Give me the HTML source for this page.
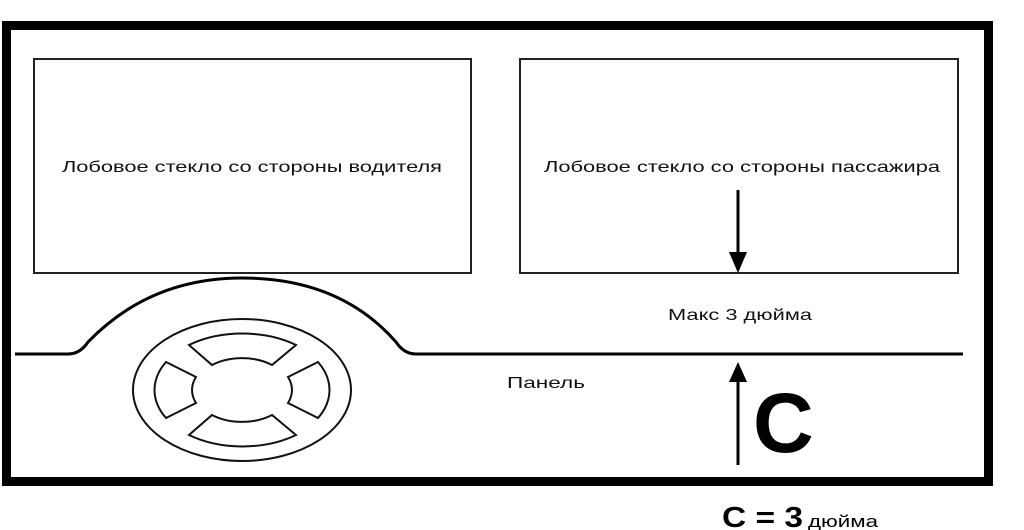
<!DOCTYPE html>
<html><head><meta charset="utf-8"><style>html,body{margin:0;padding:0;background:#fff}svg{display:block}</style></head>
<body>
<svg width="1024" height="530" viewBox="0 0 1024 530" xmlns="http://www.w3.org/2000/svg" font-family="Liberation Sans, sans-serif">
<rect x="6.5" y="25.5" width="982" height="456" fill="none" stroke="#000" stroke-width="9"/>
<rect x="34" y="59" width="437" height="214" fill="none" stroke="#222" stroke-width="2"/>
<rect x="520" y="59" width="438" height="214" fill="none" stroke="#222" stroke-width="2"/>
<text x="252" y="172" font-size="16" text-anchor="middle" textLength="380" lengthAdjust="spacingAndGlyphs" fill="#111">Лобовое стекло со стороны водителя</text>
<text x="742" y="172" font-size="16" text-anchor="middle" textLength="396" lengthAdjust="spacingAndGlyphs" fill="#111">Лобовое стекло со стороны пассажира</text>
<path d="M15,354 L68,354 Q80,354 88,342 Q150,278 242,278 Q340,278 396,342 Q404,354 416,354 L963,354" fill="none" stroke="#000" stroke-width="3"/>
<ellipse cx="242" cy="390" rx="109" ry="71" fill="none" stroke="#111" stroke-width="2"/>
<g fill="none" stroke="#111" stroke-width="2">
<path d="M189,345 A89,57 0 0,1 296,345 L272,365 A49,33 0 0,0 212,365 Z"/>
<path d="M189,435 A89,57 0 0,0 296,435 L272,415 A49,33 0 0,1 212,415 Z"/>
<path d="M166,362 A89,57 0 0,0 166,418 L196,403 A49,33 0 0,1 196,377 Z"/>
<path d="M318,362 A89,57 0 0,1 318,418 L288,403 A49,33 0 0,0 288,377 Z"/>
</g>
<line x1="738" y1="190" x2="738" y2="255" stroke="#000" stroke-width="3"/>
<polygon points="729,252 747,252 738,273" fill="#000"/>
<line x1="738" y1="378" x2="738" y2="465" stroke="#000" stroke-width="3"/>
<polygon points="729,382 747,382 738,362" fill="#000"/>
<text x="740" y="320" font-size="16" text-anchor="middle" textLength="144" lengthAdjust="spacingAndGlyphs" fill="#111">Макс 3 дюйма</text>
<text x="546" y="388" font-size="16" text-anchor="middle" textLength="78" lengthAdjust="spacingAndGlyphs" fill="#111">Панель</text>
<text x="753" y="452" font-size="84" font-weight="bold" fill="#000">C</text>
<text x="722" y="527" font-size="29" font-weight="bold" fill="#000" textLength="81" lengthAdjust="spacingAndGlyphs">C = 3</text>
<text x="808" y="527" font-size="17" fill="#000" textLength="70" lengthAdjust="spacingAndGlyphs">дюйма</text>
</svg>
</body></html>
